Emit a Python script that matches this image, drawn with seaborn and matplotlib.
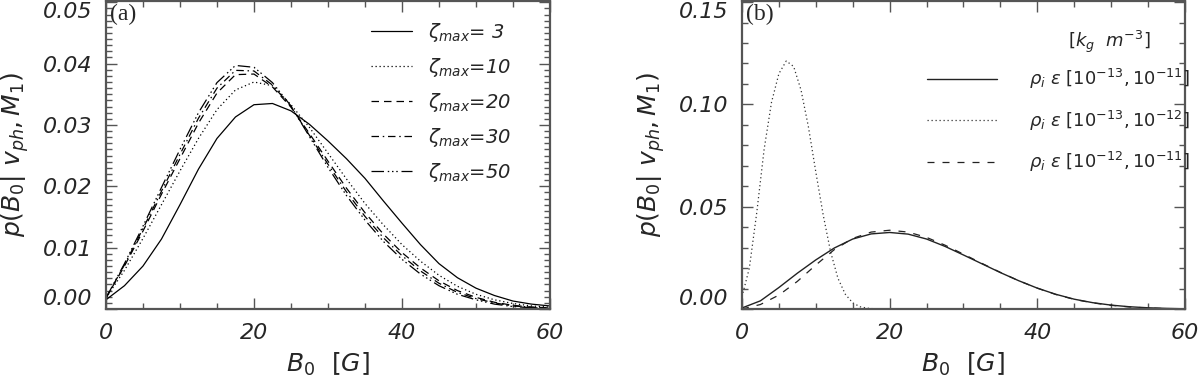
#!/usr/bin/env python3
"""Posterior p(B0 | v_ph, M1) for different zeta_max (a) and density ranges (b)."""

import numpy as np
import pandas as pd
import matplotlib
matplotlib.use('Agg')
import matplotlib.pyplot as plt
from matplotlib.ticker import MultipleLocator
import seaborn as sns

# ---- data ----
b0 = [0, 2.5, 5, 7.5, 10, 12.5, 15, 17.5, 20, 22.5, 25, 27.5, 30,
      32.5, 35, 37.5, 40, 42.5, 45, 47.5, 50, 52.5, 55, 57.5, 60]

# panel (a)
zeta_labels = ['3', '10', '20', '30', '50']
p_zeta3 = [0.0015, 0.0038, 0.0070, 0.0114, 0.0170, 0.0228, 0.0278, 0.0313, 0.0333,
           0.0335, 0.0323, 0.0301, 0.0274, 0.0245, 0.0213, 0.0176, 0.0140, 0.0105,
           0.0074, 0.0051, 0.0034, 0.0022, 0.0013, 0.0008, 0.0005]
p_zeta10 = [0.0018, 0.0063, 0.0115, 0.0170, 0.0225, 0.0278, 0.0325, 0.0357, 0.0370,
            0.0364, 0.0333, 0.0296, 0.0254, 0.0212, 0.0172, 0.0137, 0.0105, 0.0078,
            0.0055, 0.0037, 0.0024, 0.0015, 0.0009, 0.0005, 0.0003]
p_zeta20 = [0.0018, 0.0070, 0.0127, 0.0187, 0.0245, 0.0303, 0.0352, 0.0382, 0.0383,
            0.0362, 0.0329, 0.0286, 0.0241, 0.0197, 0.0157, 0.0122, 0.0092, 0.0067,
            0.0046, 0.0030, 0.0019, 0.0011, 0.0006, 0.0003, 0.0002]
p_zeta30 = [0.0018, 0.0072, 0.0131, 0.0192, 0.0252, 0.0311, 0.0360, 0.0389, 0.0388,
            0.0365, 0.0330, 0.0283, 0.0236, 0.0191, 0.0151, 0.0116, 0.0087, 0.0062,
            0.0042, 0.0027, 0.0017, 0.0010, 0.0005, 0.0003, 0.0001]
p_zeta50 = [0.0018, 0.0074, 0.0135, 0.0198, 0.0260, 0.0320, 0.0369, 0.0397, 0.0394,
            0.0369, 0.0331, 0.0281, 0.0231, 0.0185, 0.0145, 0.0110, 0.0081, 0.0057,
            0.0038, 0.0024, 0.0015, 0.0008, 0.0004, 0.0002, 0.0001]

# panel (b)
rho_labels = [r'$\rho_i\ \epsilon\ [10^{-13},10^{-11}]$',
              r'$\rho_i\ \epsilon\ [10^{-13},10^{-12}]$',
              r'$\rho_i\ \epsilon\ [10^{-12},10^{-11}]$']
p_rho_13_11 = [0.0005, 0.0040, 0.0105, 0.0175, 0.0240, 0.0298, 0.0342, 0.0367, 0.0374,
               0.0366, 0.0342, 0.0306, 0.0264, 0.0221, 0.0178, 0.0138, 0.0102, 0.0072,
               0.0048, 0.0031, 0.0019, 0.0011, 0.0006, 0.0003, 0.0001]
b0_fine = [0, 1, 2, 3, 4, 5, 6, 7, 8, 9, 10, 11, 12, 13, 14, 15, 16, 17, 18, 19, 20]
p_rho_13_12 = [0.0060, 0.0200, 0.0470, 0.0780, 0.1010, 0.1150, 0.1212, 0.1185, 0.1070,
               0.0890, 0.0670, 0.0460, 0.0280, 0.0150, 0.0072, 0.0030, 0.0011, 0.0004,
               0.0001, 0.0, 0.0]
p_rho_12_11 = [0.0000, 0.0022, 0.0068, 0.0135, 0.0215, 0.0290, 0.0345, 0.0376, 0.0385,
               0.0376, 0.0350, 0.0312, 0.0268, 0.0223, 0.0179, 0.0138, 0.0102, 0.0071,
               0.0047, 0.0030, 0.0018, 0.0010, 0.0005, 0.0002, 0.0001]

sns.set_style('ticks')
plt.rcParams['font.family'] = ['DejaVu Sans']
plt.rcParams['mathtext.fontset'] = 'dejavusans'

AX_COLOR = '#555555'


def style_axes(ax, ymax, yticks, yminor):
    ax.set_xlim(0, 60)
    ax.set_ylim(0, ymax)
    ax.set_xticks([0, 20, 40, 60])
    ax.xaxis.set_minor_locator(MultipleLocator(5))
    ax.set_yticks(yticks)
    ax.set_yticklabels([f'{v:.2f}' for v in yticks])
    ax.yaxis.set_minor_locator(MultipleLocator(yminor))
    ax.tick_params(which='both', direction='in', top=True, right=True,
                   color=AX_COLOR, width=1.0)
    ax.tick_params(which='major', length=8, labelsize=16, pad=10)
    ax.tick_params(which='minor', length=4)
    for s in ax.spines.values():
        s.set_color(AX_COLOR)
        s.set_linewidth(1.6)
    for lab in ax.get_xticklabels() + ax.get_yticklabels():
        lab.set_style('italic')
    # end labels sit inside the box, as in the original
    ticks = ax.yaxis.get_major_ticks()
    ticks[0].label1.set_verticalalignment('bottom')
    ticks[-1].label1.set_verticalalignment('top')
    ax.set_xlabel(r'$B_0\ \ [G]$', fontsize=18, labelpad=6)
    ax.set_ylabel(r'$p(B_0|\ v_{ph}, M_1)$', fontsize=18, labelpad=8)


fig = plt.figure(figsize=(12, 3.8), dpi=100)
ax_a = fig.add_axes([0.0883, 0.1868, 0.37, 0.8105])
ax_b = fig.add_axes([0.6183, 0.1868, 0.3692, 0.8105])

# ---- panel (a) ----
df_a = pd.DataFrame({'B0': b0 * 5,
                     'p': p_zeta3 + p_zeta10 + p_zeta20 + p_zeta30 + p_zeta50,
                     'zeta': np.repeat(zeta_labels, len(b0))})
styles_a = {'3': '-', '10': (0, (1, 2.2)), '20': (0, (6, 4)),
            '30': (0, (6, 3, 1.2, 3)), '50': (0, (10, 3, 1.2, 2.2, 1.2, 2.2, 1.2, 3))}
for z in zeta_labels:
    sub = df_a[df_a['zeta'] == z]
    lab = r'$\zeta_{max}$=' + (' ' + z if len(z) == 1 else z)
    sns.lineplot(data=sub, x='B0', y='p', ax=ax_a, color='black', lw=0.9,
                 linestyle=styles_a[z], estimator=None, errorbar=None,
                 sort=False, label=lab)
style_axes(ax_a, 0.0502, [0, 0.01, 0.02, 0.03, 0.04, 0.05], 0.001)
ax_a.legend(loc='upper left', bbox_to_anchor=((371 - 106) / 444, 0.935),
            frameon=False, borderpad=0, borderaxespad=0,
            handlelength=2.1, handletextpad=0.85, labelspacing=0.62,
            prop={'style': 'italic', 'size': 14})
ax_a.text(0.008, 0.99, '(a)', transform=ax_a.transAxes, ha='left', va='top',
          fontsize=17, family='Liberation Serif')

# ---- panel (b) ----
sns.lineplot(x=b0, y=p_rho_13_11, ax=ax_b, color='#222222', lw=1.0,
             linestyle='-', estimator=None, errorbar=None, sort=False,
             label=rho_labels[0])
sns.lineplot(x=b0_fine, y=p_rho_13_12, ax=ax_b, color='#333333', lw=0.9,
             linestyle=(0, (1, 2.2)), estimator=None, errorbar=None, sort=False,
             label=rho_labels[1])
sns.lineplot(x=b0, y=p_rho_12_11, ax=ax_b, color='#222222', lw=0.9,
             linestyle=(0, (5.6, 6.4)), estimator=None, errorbar=None, sort=False,
             label=rho_labels[2])
style_axes(ax_b, 0.1505, [0, 0.05, 0.10, 0.15], 0.01)
ax_b.legend(loc='upper left', bbox_to_anchor=((927 - 742) / 443, 0.785),
            frameon=False, borderpad=0, borderaxespad=0,
            handlelength=3.9, handletextpad=1.75, labelspacing=0.95,
            prop={'style': 'italic', 'size': 13})
ax_b.text(0.83, 0.868, r'$[k_g\ \ m^{-3}]$', transform=ax_b.transAxes,
          ha='center', va='center', fontsize=13)
ax_b.text(0.008, 0.99, '(b)', transform=ax_b.transAxes, ha='left', va='top',
          fontsize=17, family='Liberation Serif')

plt.savefig('out.png', dpi=100)
plt.close()
